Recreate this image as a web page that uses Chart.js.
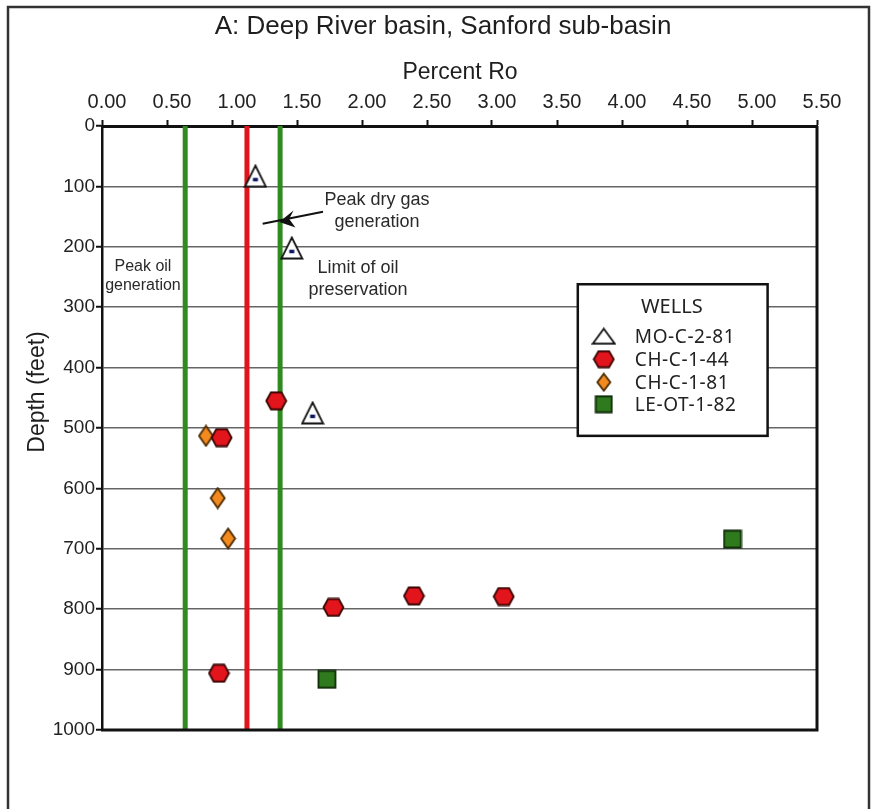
<!DOCTYPE html>
<html>
<head>
<meta charset="utf-8">
<title>A: Deep River basin, Sanford sub-basin</title>
<script src="https://cdn.jsdelivr.net/npm/chart.js@4.4.1/dist/chart.umd.min.js"></script>
<style>
  html, body { margin: 0; padding: 0; background: #fff; }
  .chart-box { width: 879px; height: 809px; }
</style>
</head>
<body>
<div class="chart-box"><canvas class="chart" width="879" height="809"></canvas></div>
<script>
// Vitrinite reflectance (percent Ro) against depth (feet) for each well
const wellNames = ['MO-C-2-81', 'CH-C-1-44', 'CH-C-1-81', 'LE-OT-1-82'];
const moRo = [1.18, 1.46, 1.62];
const moDepth = [83, 202, 475];
const ch44Ro = [1.34, 0.92, 1.78, 2.40, 3.09, 0.90];
const ch44Depth = [455, 516, 797, 778, 779, 906];
const ch81Ro = [0.80, 0.89, 0.97];
const ch81Depth = [513, 616, 683];
const le82Ro = [1.73, 4.85];
const le82Depth = [916, 684];

// maturity limits drawn as vertical lines
const limitRo = [0.64, 1.115, 1.37];
const limitColors = ['#2f8a1f', '#e0141b', '#2f8a1f'];

const roTicks = ['0.00', '0.50', '1.00', '1.50', '2.00', '2.50', '3.00', '3.50', '4.00', '4.50', '5.00', '5.50'];
const depthTicks = ['0', '100', '200', '300', '400', '500', '600', '700', '800', '900', '1000'];

const FONT = '"Liberation Sans", Arial, sans-serif';

function makeSymbol(shape, w, h, fill, stroke, dot) {
    const c = document.createElement('canvas');
    c.width = w;
    c.height = h;
    const ctx = c.getContext('2d');
    ctx.beginPath();
    if (shape === 'triangle') {
        ctx.moveTo(w / 2, 1.5);
        ctx.lineTo(w - 1.5, h - 1.5);
        ctx.lineTo(1.5, h - 1.5);
    } else if (shape === 'hexagon') {
        ctx.moveTo(1.5, h / 2);
        ctx.lineTo(w * 0.27, 1.5);
        ctx.lineTo(w * 0.73, 1.5);
        ctx.lineTo(w - 1.5, h / 2);
        ctx.lineTo(w * 0.73, h - 1.5);
        ctx.lineTo(w * 0.27, h - 1.5);
    } else if (shape === 'diamond') {
        ctx.moveTo(w / 2, 1.5);
        ctx.lineTo(w - 1.5, h / 2);
        ctx.lineTo(w / 2, h - 1.5);
        ctx.lineTo(1.5, h / 2);
    } else {
        ctx.rect(1.5, 1.5, w - 3, h - 3);
    }
    ctx.closePath();
    ctx.fillStyle = fill;
    ctx.fill();
    ctx.lineWidth = 1.8;
    ctx.strokeStyle = stroke;
    ctx.stroke();
    if (dot) {
        ctx.fillStyle = '#0b1560';
        ctx.fillRect(w / 2 - 2.5, h * 0.57, 5, 3.5);
    }
    return c;
}

function toPoints(xs, ys) {
    return xs.map((x, i) => ({ x: x, y: ys[i] }));
}

document.addEventListener('DOMContentLoaded', function () {

    const chartCanvas = document.querySelector('.chart');
    if (!chartCanvas) {
        console.error("Canvas element with class 'chart' not found.");
        return;
    }

    const wellStyles = [
        { plot: makeSymbol('triangle', 24, 24, '#ffffff', '#111111', true), key: makeSymbol('triangle', 25, 18, '#ffffff', '#111111', false) },
        { plot: makeSymbol('hexagon', 23, 20, '#e2141c', '#3b0505'), key: makeSymbol('hexagon', 23, 19, '#e2141c', '#3b0505') },
        { plot: makeSymbol('diamond', 17, 23, '#f28a1e', '#4a2a00'), key: makeSymbol('diamond', 16, 20, '#f28a1e', '#4a2a00') },
        { plot: makeSymbol('square', 20, 20, '#2e7a1c', '#0f2a08'), key: makeSymbol('square', 19, 19, '#2e7a1c', '#0f2a08') }
    ];
    const wellData = [
        toPoints(moRo, moDepth),
        toPoints(ch44Ro, ch44Depth),
        toPoints(ch81Ro, ch81Depth),
        toPoints(le82Ro, le82Depth)
    ];

    const limitSets = limitRo.map((ro, i) => ({
        label: 'limit ' + i,
        data: [{ x: ro, y: 0 }, { x: ro, y: 1000 }],
        showLine: true,
        borderColor: limitColors[i],
        borderWidth: 5,
        pointRadius: 0,
        order: 5
    }));
    const wellSets = wellNames.map((name, i) => ({
        label: name,
        data: wellData[i],
        pointStyle: wellStyles[i].plot,
        keySymbol: wellStyles[i].key,
        pointRadius: 10,
        order: 0
    }));

    // text, arrow, legend box and outer frame
    const wellsFrame = {
        id: 'wellsFrame',
        beforeDraw(chart) {
            const ctx = chart.ctx;
            ctx.save();
            ctx.fillStyle = '#ffffff';
            ctx.fillRect(0, 0, chart.width, chart.height);
            ctx.restore();
        },
        afterDatasetsDraw(chart) {
            const ctx = chart.ctx;
            const area = chart.chartArea;
            const xs = chart.scales.x;
            const ys = chart.scales.y;
            const px = v => xs.getPixelForValue(v);
            const py = v => ys.getPixelForValue(v);

            ctx.save();
            // right and bottom sides of the plot
            ctx.strokeStyle = '#111';
            ctx.lineWidth = 3;
            ctx.beginPath();
            ctx.moveTo(area.right, area.top);
            ctx.lineTo(area.right, area.bottom);
            ctx.lineTo(area.left - 1, area.bottom);
            ctx.stroke();

            ctx.fillStyle = '#2a2a2a';
            ctx.textAlign = 'center';
            ctx.textBaseline = 'middle';

            ctx.font = '16px ' + FONT;
            ctx.fillText('Peak oil', px(0.315), py(233));
            ctx.fillText('generation', px(0.315), py(265));

            ctx.font = '18px ' + FONT;
            ctx.fillText('Peak dry gas', px(2.115), py(122));
            ctx.fillText('generation', px(2.115), py(159));
            ctx.fillText('Limit of oil', px(1.97), py(235));
            ctx.fillText('preservation', px(1.97), py(271));

            // arrow towards the limit lines
            ctx.strokeStyle = '#111';
            ctx.lineWidth = 2;
            ctx.beginPath();
            ctx.moveTo(px(1.70), py(142));
            ctx.lineTo(px(1.236), py(162));
            ctx.stroke();
            ctx.fillStyle = '#111';
            ctx.beginPath();
            ctx.moveTo(px(1.364), py(159));
            ctx.lineTo(px(1.473), py(140));
            ctx.lineTo(px(1.44), py(154));
            ctx.lineTo(px(1.488), py(168));
            ctx.closePath();
            ctx.fill();

            // legend box
            const bx = px(3.66), by = py(262);
            const bw = px(5.12) - bx, bh = py(513) - by;
            ctx.fillStyle = '#ffffff';
            ctx.fillRect(bx, by, bw, bh);
            ctx.strokeStyle = '#111';
            ctx.lineWidth = 2.5;
            ctx.strokeRect(bx, by, bw, bh);

            ctx.fillStyle = '#222';
            ctx.font = '20px "Noto Sans", "Open Sans", sans-serif';
            ctx.fillText('WELLS', bx + 94, by + 23);

            ctx.textAlign = 'left';
            ctx.font = '19px "Noto Sans", "Open Sans", sans-serif';
            ctx.letterSpacing = '0.6px';
            const rowY = [52, 75, 98, 120];
            wellSets.forEach((ds, i) => {
                const sym = ds.keySymbol;
                const cy = by + rowY[i];
                ctx.drawImage(sym, bx + 26 - sym.width / 2, cy - sym.height / 2);
                ctx.fillText(ds.label, bx + 57, cy + 1);
            });
            ctx.letterSpacing = '0px';
            ctx.restore();
        },
        afterDraw(chart) {
            const ctx = chart.ctx;
            ctx.save();
            ctx.fillStyle = '#1e1e1e';
            ctx.textAlign = 'center';
            ctx.textBaseline = 'middle';
            ctx.font = '26px ' + FONT;
            ctx.fillText('A: Deep River basin, Sanford sub-basin', 443, 27);
            ctx.font = '23px ' + FONT;
            ctx.fillText('Percent Ro', 460, 73);

            ctx.translate(38, 392);
            ctx.rotate(-Math.PI / 2);
            ctx.fillText('Depth (feet)', 0, 0);
            ctx.restore();

            // outer frame
            ctx.save();
            ctx.strokeStyle = '#333';
            ctx.lineWidth = 2.5;
            ctx.beginPath();
            ctx.moveTo(8, chart.height);
            ctx.lineTo(8, 7);
            ctx.lineTo(869, 7);
            ctx.lineTo(869, chart.height);
            ctx.stroke();
            ctx.restore();
        }
    };

    new Chart(chartCanvas.getContext('2d'), {
        type: 'scatter',
        data: {
            datasets: limitSets.concat(wellSets)
        },
        options: {
            responsive: false,
            animation: false,
            layout: {
                padding: { left: 0, top: 0, right: 62, bottom: 79 }
            },
            plugins: {
                legend: { display: false },
                title: { display: false },
                tooltip: { enabled: false }
            },
            scales: {
                x: {
                    type: 'linear',
                    position: 'top',
                    min: 0,
                    max: 5.5,
                    afterFit: function (scale) { scale.height = 126; },
                    ticks: {
                        stepSize: 0.5,
                        padding: 6,
                        labelOffset: 5,
                        maxRotation: 0,
                        color: '#222',
                        font: { family: FONT, size: 20 },
                        callback: (value) => roTicks[Math.round(value / 0.5)]
                    },
                    grid: {
                        drawOnChartArea: false,
                        drawTicks: true,
                        tickLength: 6,
                        tickColor: '#111',
                        tickWidth: 2
                    },
                    border: { display: true, color: '#111', width: 3 }
                },
                y: {
                    type: 'linear',
                    reverse: true,
                    min: 0,
                    max: 1000,
                    afterFit: function (scale) { scale.width = 102; },
                    ticks: {
                        stepSize: 100,
                        padding: 1,
                        color: '#222',
                        font: { family: FONT, size: 19 },
                        callback: (value) => depthTicks[Math.round(value / 100)]
                    },
                    grid: {
                        color: '#666',
                        lineWidth: 1.5,
                        tickLength: 6,
                        tickColor: '#111',
                        tickWidth: 2
                    },
                    border: { display: true, color: '#111', width: 2.5 }
                }
            }
        },
        plugins: [wellsFrame]
    });

});
</script>
</body>
</html>
